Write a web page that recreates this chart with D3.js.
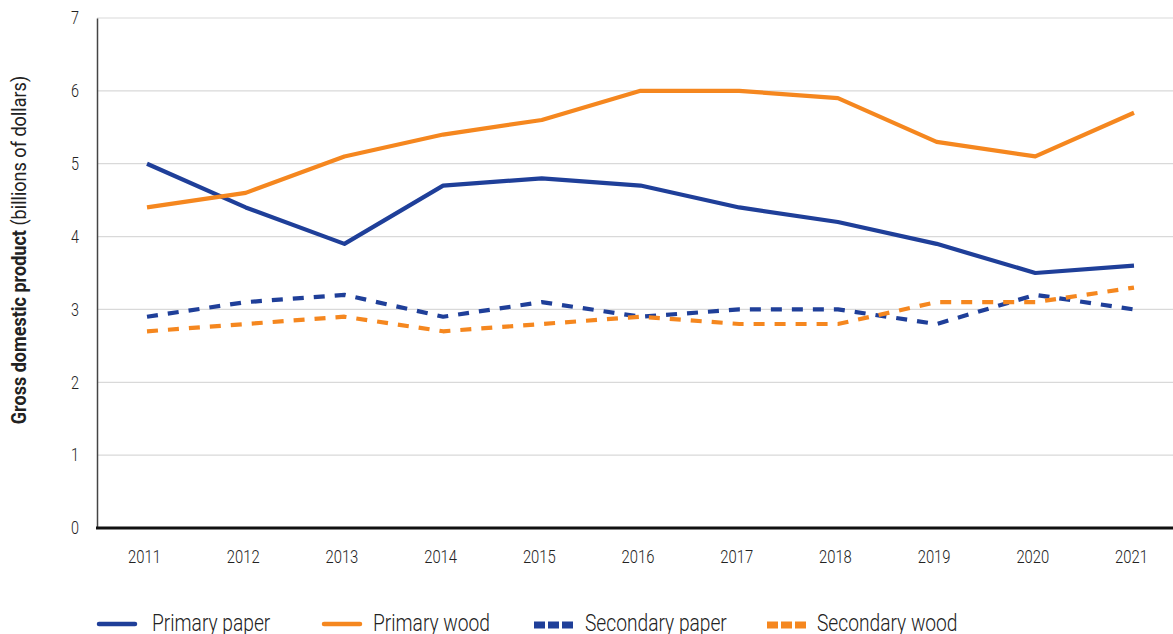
<!DOCTYPE html>
<html>
<head>
<meta charset="utf-8">
<script src="https://cdn.jsdelivr.net/npm/d3@7"></script>
<style>
  html, body { margin: 0; padding: 0; background: #fff; }
  svg { display: block; }
  text { font-family: "Roboto", "Liberation Sans", sans-serif; fill: #222; }
</style>
</head>
<body>
<svg id="chart" width="1173" height="634"></svg>
<script>
const years = [2011, 2012, 2013, 2014, 2015, 2016, 2017, 2018, 2019, 2020, 2021];
const primaryPaper   = [5.0, 4.4, 3.9, 4.7, 4.8, 4.7, 4.4, 4.2, 3.9, 3.5, 3.6];
const primaryWood    = [4.4, 4.6, 5.1, 5.4, 5.6, 6.0, 6.0, 5.9, 5.3, 5.1, 5.7];
const secondaryPaper = [2.9, 3.1, 3.2, 2.9, 3.1, 2.9, 3.0, 3.0, 2.8, 3.2, 3.0];
const secondaryWood  = [2.7, 2.8, 2.9, 2.7, 2.8, 2.9, 2.8, 2.8, 3.1, 3.1, 3.3];
const yTicks = [0, 1, 2, 3, 4, 5, 6, 7];
const seriesNames = ["Primary paper", "Primary wood", "Secondary paper", "Secondary wood"];

const BLUE = "#1f3f99", ORANGE = "#f5871f";
const series = [
  { name: seriesNames[0], values: primaryPaper,   color: BLUE,   dash: null },
  { name: seriesNames[1], values: primaryWood,    color: ORANGE, dash: null },
  { name: seriesNames[2], values: secondaryPaper, color: BLUE,   dash: "11,10" },
  { name: seriesNames[3], values: secondaryWood,  color: ORANGE, dash: "11,10" }
];

const svg = d3.select("#chart");
const plotLeft = 97, plotRight = 1173, plotTop = 18, plotBottom = 528;
const SX = 0.8; // horizontal condensing of text

const x = d3.scalePoint().domain(years).range([147, 1134]);
const y = d3.scaleLinear().domain([0, 7]).range([plotBottom, plotTop]);

// gridlines
svg.append("g")
  .selectAll("line")
  .data(yTicks.filter(d => d > 0))
  .join("line")
  .attr("x1", plotLeft).attr("x2", plotRight)
  .attr("y1", d => y(d)).attr("y2", d => y(d))
  .attr("stroke", "#d9d9d9").attr("stroke-width", 1.2);

// left axis
const yAxis = d3.axisLeft(y).tickValues(yTicks).tickSize(0).tickPadding(18).tickFormat(d3.format("d"));
const gy = svg.append("g").attr("transform", `translate(${plotLeft},0)`).call(yAxis);
gy.select(".domain").attr("stroke", "#444").attr("stroke-width", 1.5);
gy.selectAll("text").attr("font-size", 18).attr("fill", "#222").attr("font-weight", 300)
  .attr("x", -18 / SX).attr("transform", `scale(${SX},1)`)
  .style("font-family", '"Roboto", sans-serif');

// bottom axis
const xAxis = d3.axisBottom(x).tickSize(0).tickPadding(22).tickFormat(d3.format("d"));
const gx = svg.append("g").attr("transform", `translate(0,${plotBottom})`).call(xAxis);
gx.select(".domain").remove();
gx.selectAll("text").attr("font-size", 18.5).attr("fill", "#222").attr("font-weight", 300)
  .attr("x", -3 / SX).attr("transform", `scale(${SX},1)`)
  .style("font-family", '"Roboto", sans-serif');
svg.append("line")
  .attr("x1", plotLeft - 1).attr("x2", plotRight)
  .attr("y1", plotBottom).attr("y2", plotBottom)
  .attr("stroke", "#111").attr("stroke-width", 2.8);

// y title
const title = svg.append("text")
  .attr("transform", `translate(26,250) rotate(-90) scale(0.86,1)`)
  .attr("text-anchor", "middle")
  .attr("font-size", 21);
title.append("tspan").attr("font-weight", "bold").text("Gross domestic product");
title.append("tspan").attr("font-weight", 400).text(" (billions of dollars)");

// lines
const line = d3.line().x((d, i) => x(years[i])).y(d => y(d));
svg.append("g").selectAll("path")
  .data(series)
  .join("path")
  .attr("d", d => line(d.values))
  .attr("fill", "none")
  .attr("stroke", d => d.color)
  .attr("stroke-width", 4.2)
  .attr("stroke-dasharray", d => d.dash)
  .attr("stroke-linejoin", "round");

// legend
const legendX = [97, 322, 534, 767];
const legendTextOffset = [55, 51, 51, 50];
const lg = svg.append("g").selectAll("g")
  .data(series)
  .join("g")
  .attr("transform", (d, i) => `translate(${legendX[i]},624)`);
lg.append("line")
  .attr("x1", d => d.dash ? 0 : 2).attr("x2", d => d.dash ? 40 : 38)
  .attr("y1", d => d.dash ? 1 : 0).attr("y2", d => d.dash ? 1 : 0)
  .attr("stroke", d => d.color)
  .attr("stroke-width", d => d.dash ? 7 : 4.5)
  .attr("stroke-dasharray", d => d.dash ? "11,3" : null)
  .attr("stroke-linecap", d => d.dash ? "butt" : "round");
lg.append("text")
  .attr("transform", (d, i) => `translate(${legendTextOffset[i]},7) scale(${SX},1)`)
  .attr("font-size", 24)
  .attr("font-weight", 300)
  .text(d => d.name);
</script>
</body>
</html>
